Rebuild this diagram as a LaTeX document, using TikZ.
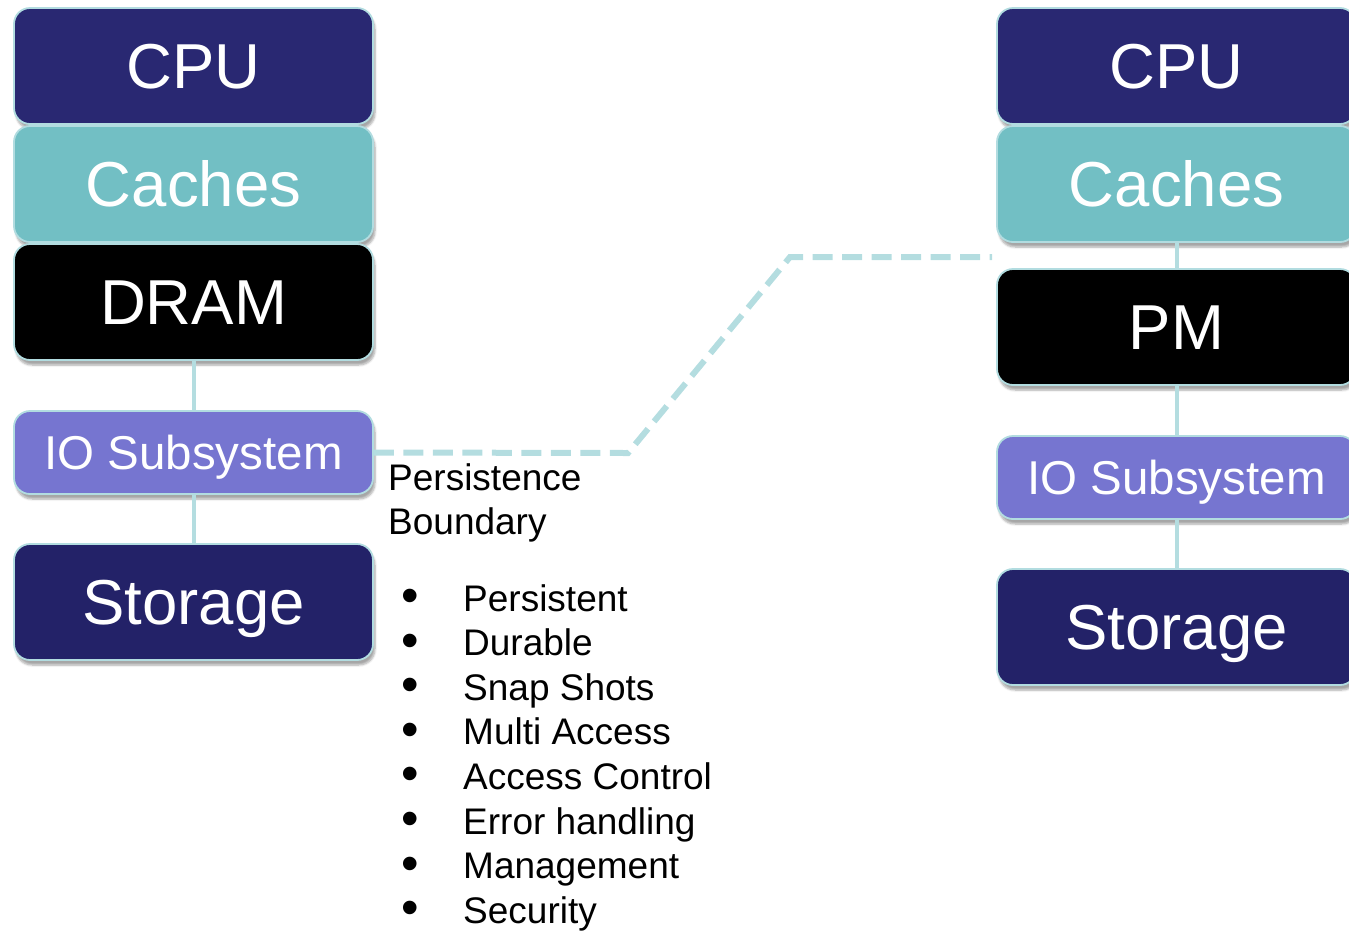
\documentclass[tikz,border=0pt]{standalone}
\usepackage{fontspec}
\setmainfont{Liberation Sans}
\usetikzlibrary{shadows.blur}
\definecolor{cpucol}{HTML}{292872}
\definecolor{stocol}{HTML}{232268}
\definecolor{cachecol}{HTML}{72BFC4}
\definecolor{iocol}{HTML}{7675D0}
\definecolor{edgecol}{HTML}{B2DCE0}
\definecolor{linkcol}{HTML}{B4DDE0}
\tikzset{
  layerbox/.style={draw=edgecol, line width=1.8pt, rounded corners=16pt,
    minimum width=359pt, inner sep=0pt, text=white,
    blur shadow={shadow xshift=2pt, shadow yshift=-5pt, shadow blur steps=6, shadow opacity=35}},
  bigbox/.style={layerbox, minimum height=116pt, font=\fontsize{63.5}{76}\selectfont,
    text height=45.5pt, text depth=0pt},
  iobox/.style={layerbox, fill=iocol, minimum height=83pt, font=\fontsize{47.5}{57}\selectfont,
    text height=34pt, text depth=0pt},
  link/.style={draw=linkcol, line width=4pt},
  boundary/.style={draw=linkcol, line width=6pt, dash pattern=on 20pt off 9.5pt},
  plain/.style={font=\fontsize{37}{44.6}\selectfont, inner sep=0pt, text=black}
}
\begin{document}
\begin{tikzpicture}[x=1pt,y=-1pt]
\useasboundingbox (0,0) rectangle (1349,930);
\clip (0,0) rectangle (1349,930);
% left stack
\node[bigbox, fill=cpucol] (cpuL) at (193.5,66) {CPU};
\node[bigbox, fill=cachecol] (cacheL) at (193.5,184) {Caches};
\node[bigbox, fill=black] (dramL) at (193.5,302) {DRAM};
\node[iobox] (ioL) at (193.5,452.5) {IO Subsystem};
\node[bigbox, fill=stocol] (stoL) at (193.5,602) {Storage};
% right stack
\node[bigbox, fill=cpucol] (cpuR) at (1176.5,66) {CPU};
\node[bigbox, fill=cachecol] (cacheR) at (1176.5,184) {Caches};
\node[bigbox, fill=black] (pmR) at (1176.5,327) {PM};
\node[iobox] (ioR) at (1176.5,477.5) {IO Subsystem};
\node[bigbox, fill=stocol] (stoR) at (1176.5,627) {Storage};
% vertical links
\draw[link] (dramL.south) -- (ioL.north);
\draw[link] (ioL.south) -- (stoL.north);
\draw[link] (cacheR.south) -- (pmR.north);
\draw[link] (pmR.south) -- (ioR.north);
\draw[link] (ioR.south) -- (stoR.north);
% persistence boundary
\coordinate (bnd1) at (628,453);
\coordinate (bnd2) at (790,257);
\coordinate (bndEnd) at (992,257);
\draw[boundary] (ioL.east) -- (bnd1) -- (bnd2) -- (bndEnd);
\node[plain, anchor=base west] (pers) at (388,490) {Persistence};
\node[plain, anchor=base west] (bound) at (388,534) {Boundary};
% bullet list
\foreach \t [count=\i] in {Persistent,Durable,Snap Shots,Multi Access,Access Control,Error handling,Management,Security}{
  \node[plain, anchor=base west] (b\i) at (401,{611+(\i-1)*44.6}) {\makebox[62pt][l]{\smash{\raisebox{-1.5pt}{\scalebox{1.35}{\textbullet}}}}\t};
}
\end{tikzpicture}
\end{document}
